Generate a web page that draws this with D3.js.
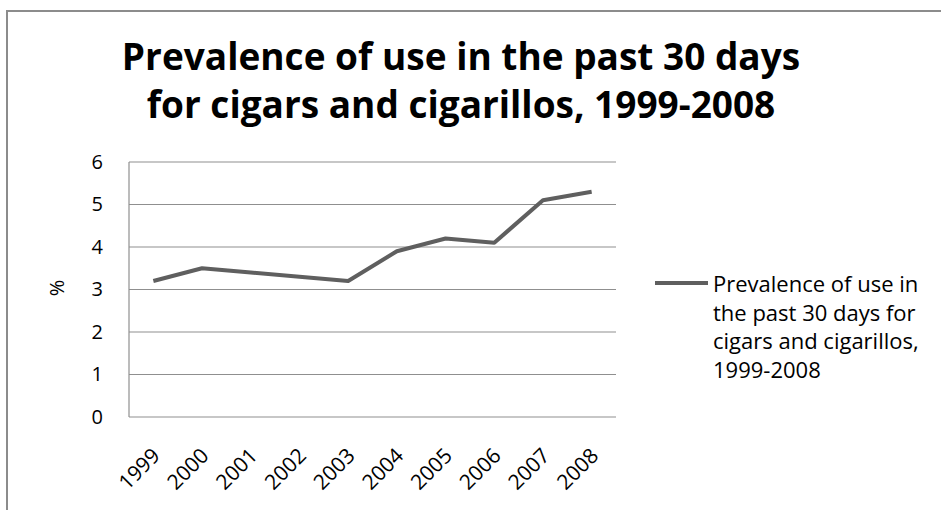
<!DOCTYPE html>
<html><head><meta charset="utf-8">
<script src="https://cdn.jsdelivr.net/npm/d3@7"></script>
<style>body{margin:0;background:#fff}svg{display:block}text{font-family:"Open Sans",sans-serif}</style>
</head><body><svg id="c" width="941" height="510"></svg>
<script>
const years = ["1999","2000","2001","2002","2003","2004","2005","2006","2007","2008"];
const values = [3.2,3.5,3.4,3.3,3.2,3.9,4.2,4.1,5.1,5.3];
const yTicks = [0,1,2,3,4,5,6];
const titleLines = ["Prevalence of use in the past 30 days","for cigars and cigarillos, 1999-2008"];
const legendLines = ["Prevalence of use in","the past 30 days for","cigars and cigarillos,","1999-2008"];
const yLabel = "%";

const svg = d3.select("#c");
svg.append("rect").attr("x",7).attr("y",11).attr("width",960).attr("height",520)
  .attr("fill","#fff").attr("stroke","#8c8c8c").attr("stroke-width",2);

const m = {l:129,r:616,t:162,b:417};
const x = d3.scaleBand().domain(years).range([m.l,m.r]);
const y = d3.scaleLinear().domain([0,6]).range([m.b,m.t]);

// title
titleLines.forEach((t,i)=>{
  svg.append("text").attr("x",461).attr("y",70+i*48).attr("text-anchor","middle")
    .attr("font-weight","bold").attr("font-size",37).attr("fill","#000").text(t);
});

// grid
svg.append("g").selectAll("line").data(yTicks).join("line")
  .attr("x1",m.l).attr("x2",m.r).attr("y1",d=>y(d)).attr("y2",d=>y(d))
  .attr("stroke","#8f8f8f").attr("stroke-width",1.2);
svg.append("line").attr("x1",m.l).attr("x2",m.l).attr("y1",m.t).attr("y2",m.b)
  .attr("stroke","#8f8f8f").attr("stroke-width",1.2);

// y axis
const ya = svg.append("g").attr("transform",`translate(${m.l},0)`)
  .call(d3.axisLeft(y).tickValues(yTicks).tickSize(0).tickPadding(26).tickFormat(d3.format("d")));
ya.select(".domain").remove();
ya.selectAll("text").attr("font-size",20).attr("fill","#000").attr("font-family","Open Sans");

// x axis
const xa = svg.append("g").attr("transform",`translate(0,${m.b})`)
  .call(d3.axisBottom(x).tickSize(0).tickPadding(0));
xa.select(".domain").remove();
xa.selectAll("text").attr("font-size",21).attr("fill","#000").attr("font-family","Open Sans")
  .attr("text-anchor","end").attr("dy",0)
  .attr("transform","translate(8,40) rotate(-45)");

// y label
svg.append("text").attr("transform","translate(64,288) rotate(-90)").attr("text-anchor","middle")
  .attr("font-size",20).attr("fill","#000").text(yLabel);

// line
const line = d3.line().x((d,i)=>x(years[i])+x.bandwidth()/2).y(d=>y(d));
svg.append("path").datum(values).attr("d",line).attr("fill","none")
  .attr("stroke","#5f5f5f").attr("stroke-width",4).attr("stroke-linejoin","round");

// legend
svg.append("line").attr("x1",655).attr("x2",708).attr("y1",283).attr("y2",283)
  .attr("stroke","#5f5f5f").attr("stroke-width",4);
legendLines.forEach((t,i)=>{
  svg.append("text").attr("x",713).attr("y",292+i*28.5).attr("font-size",22)
    .attr("fill","#000").text(t);
});
</script></body></html>
